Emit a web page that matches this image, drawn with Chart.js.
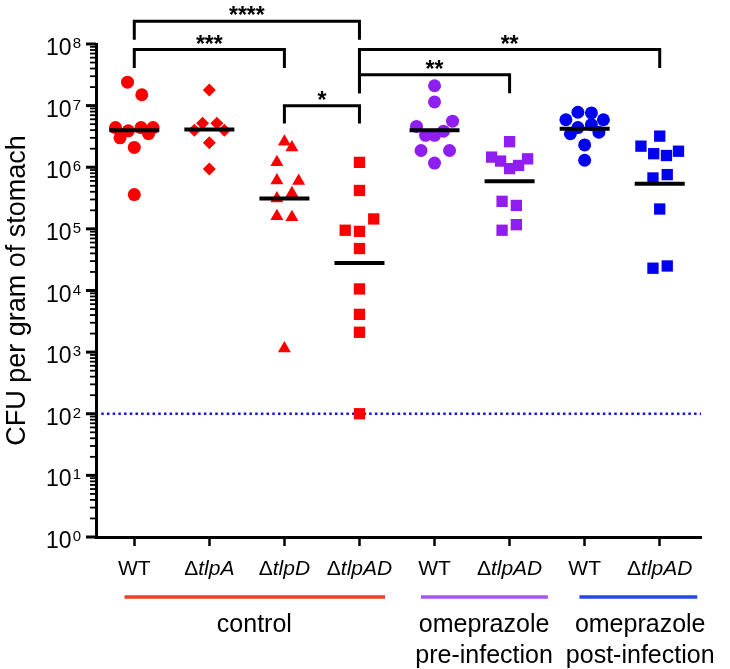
<!DOCTYPE html>
<html>
<head>
<meta charset="utf-8">
<script src="https://cdn.jsdelivr.net/npm/chart.js@4.4.1/dist/chart.umd.min.js"></script>
<style>
  html, body { margin: 0; padding: 0; background: #fff; }
  canvas { display: block; }
</style>
</head>
<body>
<canvas id="grafico" width="730" height="669"></canvas>
<script>
const categorias = ["WT", "ΔtlpA", "ΔtlpD", "ΔtlpAD", "WT", "ΔtlpAD", "WT", "ΔtlpAD"];
const grupos = ["control", "omeprazole\npre-infection", "omeprazole\npost-infection"];
const decadas = [0, 1, 2, 3, 4, 5, 6, 7, 8];

// CFU/g de cada animal (dx = deslocamento lateral do ponto)
const wtControle = [2.4e7, 1.5e7, 4.4e6, 3.9e6, 4.4e6, 4.4e6, 3.0e6, 3.5e6, 2.1e6, 3.6e5];
const wtControleDx = [-0.09, 0.1, -0.25, -0.08, 0.09, 0.25, -0.19, 0.19, 0, 0];
const tlpA = [1.8e7, 5.2e6, 5.2e6, 4.0e6, 4.0e6, 2.5e6, 9.4e5];
const tlpADx = [0, -0.09, 0.1, -0.2, 0.2, 0, 0];
const tlpD = [2.6e6, 2.1e6, 1.2e6, 6.1e5, 6.0e5, 3.8e5, 3.1e5, 1.6e5, 1.55e5, 1.15e3];
const tlpDDx = [0, 0.1, -0.1, -0.1, 0.19, 0.1, -0.1, -0.1, 0.1, 0];
const tlpADControle = [1.2e6, 4.2e5, 1.45e5, 9.5e4, 9.1e4, 4.8e4, 1.06e4, 4.1e3, 2.1e3, 100];
const tlpADControleDx = [0, 0, 0.19, -0.19, 0, 0, 0, 0, 0, 0];
const wtPre = [2.1e7, 1.15e7, 5.6e6, 4.6e6, 3.3e6, 3.3e6, 3.85e6, 1.87e6, 1.87e6, 1.17e6];
const wtPreDx = [0, 0, 0.24, -0.24, -0.12, 0, 0.12, -0.18, 0.2, 0];
const tlpADPre = [2.6e6, 1.46e6, 1.26e6, 9.5e5, 1.07e6, 1.37e6, 2.8e5, 2.4e5, 1.17e5, 9.5e4];
const tlpADPreDx = [0, -0.24, -0.12, 0, 0.12, 0.24, -0.1, 0.09, 0.09, -0.1];
const wtPos = [7.8e6, 7.6e6, 5.9e6, 5.9e6, 4.4e6, 4.9e6, 3.5e6, 3.7e6, 2.3e6, 1.3e6];
const wtPosDx = [-0.09, 0.09, -0.25, 0.25, -0.09, 0.09, -0.19, 0.19, 0, 0];
const tlpADPos = [3.2e6, 2.2e6, 1.66e6, 1.55e6, 1.82e6, 6.7e5, 7.6e5, 2.1e5, 2.3e4, 2.5e4];
const tlpADPosDx = [0, -0.25, -0.08, 0.09, 0.25, -0.09, 0.1, 0, -0.09, 0.1];

const medianas = [4.0e6, 4.1e6, 3.1e5, 2.8e4, 4.0e6, 5.9e5, 4.2e6, 5.4e5];
const limiteDeteccao = 100;

// barras de significancia (niveis em log10)
const sigDe = [0, 0, 3, 3, 2];
const sigAte = [3, 2, 7, 5, 3];
const sigTopo = [8.37, 7.91, 7.91, 7.5, 7.0];
const sigPeEsq = [8.07, 7.61, 7.2, 7.2, 6.71];
const sigPeDir = [8.07, 7.61, 7.61, 7.2, 6.71];
const sigTexto = ["****", "***", "**", "**", "*"];

const FONTE = '"Liberation Sans", Arial, sans-serif';
const VERMELHO = "rgb(250, 0, 0)";
const ROXO = "rgb(145, 30, 240)";
const AZUL = "rgb(0, 0, 240)";

function pontos(valores, dx, idx) {
  return valores.map((v, i) => ({ x: idx + dx[i], y: v }));
}

function serie(valores, dx, idx, cor, estilo, raio) {
  return {
    type: "scatter",
    data: pontos(valores, dx, idx),
    pointStyle: estilo,
    pointRadius: raio,
    pointBackgroundColor: cor,
    pointBorderColor: cor,
    pointBorderWidth: 0,
    order: 2,
  };
}

const extras = {
  id: "extras",
  afterDraw(chart) {
    const ctx = chart.ctx;
    const xs = chart.scales.x;
    const ys = chart.scales.y;
    const area = chart.chartArea;
    ctx.save();
    ctx.fillStyle = "#000";
    ctx.strokeStyle = "#000";

    // marcas do eixo y e rotulos 10^n
    ys.ticks.forEach((t) => {
      const py = ys.getPixelForValue(t.value);
      const e = Math.log10(t.value);
      const maior = Math.abs(e - Math.round(e)) < 1e-6;
      ctx.lineWidth = maior ? 3 : 1.8;
      ctx.beginPath();
      ctx.moveTo(area.left - (maior ? 10 : 6), py);
      ctx.lineTo(area.left, py);
      ctx.stroke();
    });
    decadas.forEach((d) => {
      const py = ys.getPixelForValue(Math.pow(10, d));
      ctx.textAlign = "right";
      ctx.textBaseline = "alphabetic";
      ctx.font = "15px " + FONTE;
      const w = ctx.measureText(String(d)).width;
      ctx.fillText(String(d), 81, py + 4);
      ctx.font = "23px " + FONTE;
      ctx.fillText("10", 81 - w - 1, py + 11);
    });

    // rotulos das categorias
    ctx.textAlign = "left";
    categorias.forEach((c, i) => {
      const px = xs.getPixelForValue(i);
      if (c.startsWith("Δ")) {
        ctx.font = "21px " + FONTE;
        const w1 = ctx.measureText("Δ").width;
        ctx.font = "italic 21px " + FONTE;
        const w2 = ctx.measureText(c.slice(1)).width;
        const x0 = px - (w1 + w2) / 2;
        ctx.font = "21px " + FONTE;
        ctx.fillText("Δ", x0, 575);
        ctx.font = "italic 21px " + FONTE;
        ctx.fillText(c.slice(1), x0 + w1, 575);
      } else {
        ctx.font = "21px " + FONTE;
        const w = ctx.measureText(c).width;
        ctx.fillText(c, px - w / 2, 575);
      }
    });

    // faixas coloridas e nomes dos grupos
    const faixas = [[-0.13, 3.34], [3.82, 5.51], [5.93, 7.5]];
    const centros = [1.6, 4.66, 6.74];
    const cores = ["rgb(235, 65, 40)", "rgb(165, 85, 240)", "rgb(35, 75, 225)"];
    ctx.textAlign = "center";
    ctx.font = "25px " + FONTE;
    grupos.forEach((g, i) => {
      ctx.strokeStyle = cores[i];
      ctx.lineWidth = 3.5;
      ctx.beginPath();
      ctx.moveTo(xs.getPixelForValue(faixas[i][0]), 597);
      ctx.lineTo(xs.getPixelForValue(faixas[i][1]), 597);
      ctx.stroke();
      g.split("\n").forEach((linha, k) => {
        ctx.fillText(linha, xs.getPixelForValue(centros[i]), 632 + k * 31);
      });
    });

    // barras de significancia
    ctx.strokeStyle = "#000";
    ctx.lineWidth = 3;
    ctx.font = "bold 23px " + FONTE;
    sigTexto.forEach((s, i) => {
      const xa = xs.getPixelForValue(sigDe[i]);
      const xb = xs.getPixelForValue(sigAte[i]);
      const yt = ys.getPixelForValue(Math.pow(10, sigTopo[i]));
      ctx.beginPath();
      ctx.moveTo(xa, ys.getPixelForValue(Math.pow(10, sigPeEsq[i])));
      ctx.lineTo(xa, yt);
      ctx.lineTo(xb, yt);
      ctx.lineTo(xb, ys.getPixelForValue(Math.pow(10, sigPeDir[i])));
      ctx.stroke();
      ctx.fillText(s, (xa + xb) / 2, yt + 2);
    });
    ctx.restore();
  },
};

const ctx = document.getElementById("grafico").getContext("2d");
const grafico = new Chart(ctx, {
  data: {
    datasets: [
      {
        type: "line",
        data: [
          { x: -0.44, y: limiteDeteccao },
          { x: 7.55, y: limiteDeteccao },
        ],
        borderColor: "rgb(20, 20, 230)",
        borderWidth: 2.5,
        borderDash: [2.5, 3.2],
        pointRadius: 0,
        order: 3,
      },
      serie(wtControle, wtControleDx, 0, VERMELHO, "circle", 6.5),
      serie(tlpA, tlpADx, 1, VERMELHO, "rectRot", 6.5),
      serie(tlpD, tlpDDx, 2, VERMELHO, "triangle", 7.5),
      serie(tlpADControle, tlpADControleDx, 3, VERMELHO, "rect", 8),
      serie(wtPre, wtPreDx, 4, ROXO, "circle", 6.5),
      serie(tlpADPre, tlpADPreDx, 5, ROXO, "rect", 8),
      serie(wtPos, wtPosDx, 6, AZUL, "circle", 6.5),
      serie(tlpADPos, tlpADPosDx, 7, AZUL, "rect", 8),
      {
        type: "scatter",
        data: medianas.map((m, i) => ({ x: i, y: m })),
        pointStyle: "line",
        pointRadius: 25,
        pointBorderColor: "#000",
        pointBorderWidth: 4,
        order: 0,
      },
    ],
  },
  options: {
    responsive: false,
    animation: false,
    devicePixelRatio: 1,
    layout: { padding: { top: 44, right: 18, bottom: 0, left: 0 } },
    plugins: {
      legend: { display: false },
      tooltip: { enabled: false },
    },
    scales: {
      x: {
        type: "linear",
        position: "bottom",
        min: -0.51,
        max: 7.55,
        afterBuildTicks: (s) => {
          s.ticks = categorias.map((c, i) => ({ value: i }));
        },
        afterFit: (s) => {
          s.height = 132;
        },
        ticks: { display: false },
        grid: {
          display: true,
          drawOnChartArea: false,
          drawTicks: true,
          tickLength: 9,
          tickWidth: 2.5,
          tickColor: "#000",
          color: "#000",
        },
        border: { display: true, color: "#000", width: 3 },
      },
      y: {
        type: "logarithmic",
        min: 1,
        max: 1e8,
        afterBuildTicks: (s) => {
          const t = [];
          decadas.forEach((d) => {
            for (let m = 1; m <= 9; m++) {
              const v = m * Math.pow(10, d);
              if (v <= 1e8) t.push({ value: v });
            }
          });
          s.ticks = t;
        },
        afterFit: (s) => {
          s.width = 96;
        },
        ticks: { display: false },
        grid: { display: false },
        border: { display: true, color: "#000", width: 3 },
        title: {
          display: true,
          text: "CFU per gram of stomach",
          color: "#000",
          font: { size: 27, family: FONTE },
          padding: { top: 1, bottom: 0 },
        },
      },
    },
  },
  plugins: [extras],
});
</script>
</body>
</html>
